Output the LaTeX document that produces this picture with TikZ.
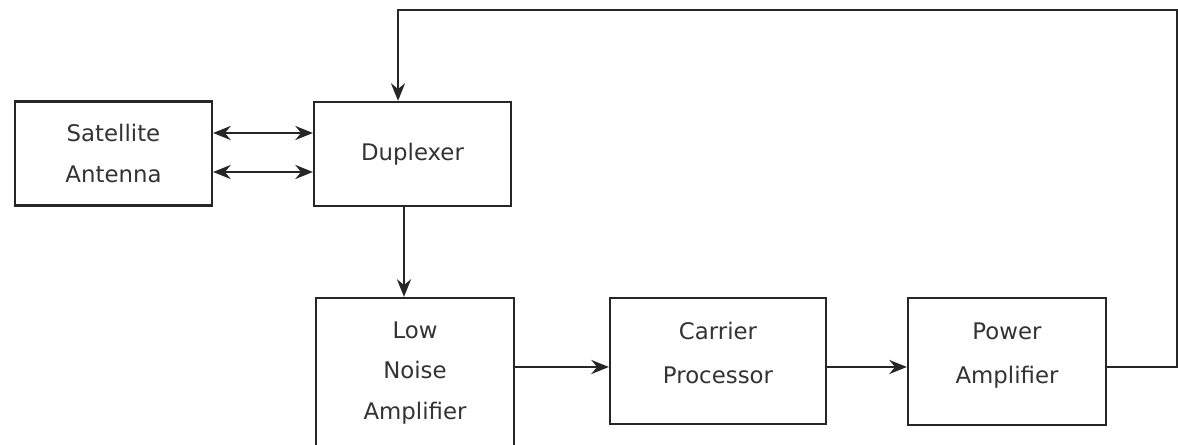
\documentclass[tikz,border=0pt]{standalone}
\usepackage{fontspec}
\setmainfont{DejaVu Sans}
\usetikzlibrary{arrows.meta}

\begin{document}
\begin{tikzpicture}[x=0.02cm, y=-0.02cm,
                every node/.style={font=\fontsize{13}{23.3}\selectfont, text=black!80},
                block/.style={draw=black!85, line width=1.3pt, minimum width=3.94cm, minimum height=2.08cm, align=center},
                link/.style={-{Stealth[length=10pt, width=8pt]}, line width=1.3pt, draw=black!85},
                twoway/.style={{Stealth[length=10pt, width=8pt]}-{Stealth[length=10pt, width=8pt]}, line width=1.3pt, draw=black!85}]

                \useasboundingbox[fill=white] (0,0) rectangle (1178,445);

                % Top row
                \node[block] (ant) at (113.5,153.5) {Satellite\\Antenna};
                \node[block] (dup) at (412.5,154) {Duplexer};

                % Bottom row
                \node[block, minimum width=3.96cm, minimum height=3.0cm] (lna) at (415,373) {Low\\Noise\\Amplifier\rule[-0.04cm]{0pt}{0pt}};
                \node[block, minimum width=4.32cm, minimum height=2.52cm] (cp) at (718,361) {Carrier\\[1.7pt]Processor\rule[-0.32cm]{0pt}{0pt}};
                \node[block, minimum width=3.96cm, minimum height=2.54cm] (pa) at (1007,361.5) {Power\\[1.7pt]Amplifier\rule[-0.32cm]{0pt}{0pt}};

                % Helper points
                \coordinate (up) at ([yshift=0.41cm]ant.east);
                \coordinate (down) at ([yshift=-0.37cm]ant.east);
                \coordinate (row) at (0,367);
                \coordinate (corner) at (1177,10);

                % Edges
                \draw[twoway] (up) -- (up -| dup.west);
                \draw[twoway] (down) -- (down -| dup.west);
                \draw[link] ([xshift=-0.17cm]dup.south) -- ([xshift=-0.17cm]dup.south |- lna.north);
                \draw[link] (lna.east |- row) -- (cp.west |- row);
                \draw[link] (cp.east |- row) -- (pa.west |- row);
                \draw[link] (pa.east |- row) -| (corner) -| ([xshift=-0.29cm]dup.north);
            \end{tikzpicture}
\end{document}
